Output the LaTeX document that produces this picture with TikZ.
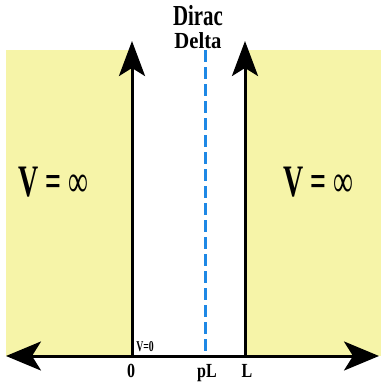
\documentclass[tikz,border=0pt]{standalone}
\usepackage{fontspec}
\setmainfont{Liberation Serif}
\usetikzlibrary{arrows.meta}
\definecolor{wallfill}{RGB}{246,244,168}
\definecolor{deltablue}{RGB}{30,136,229}

\begin{document}
\begin{tikzpicture}[x=1pt,y=-1pt,
  bigtip/.tip={Stealth[length=35pt,width=29pt,inset=9pt]},
  uptip/.tip={Stealth[length=35pt,width=26pt,inset=8pt]},
  axis/.style={line width=3pt},
  lbl/.style={inner sep=0pt, anchor=base, font=\bfseries}]
  \useasboundingbox (0,0) rectangle (381,383);
  %% 1. Walls
  \fill[wallfill] (6,50) rectangle (132,356);
  \fill[wallfill] (245,50) rectangle (381,356);
  %% 2. Coordinates
  \coordinate (xmin) at (6,356);
  \coordinate (xmax) at (379,356);
  \coordinate (zero) at (132,356);
  \coordinate (ell) at (245,356);
  \coordinate (zerotop) at (132,41);
  \coordinate (elltop) at (245,41);
  \coordinate (pl) at (205,356);
  \coordinate (pltop) at (205,50);
  %% 3. Delta and axes
  \draw[deltablue, line width=3pt, dash pattern=on 12pt off 5pt] (pltop) -- (pl);
  \draw[axis, -uptip] (zero) -- (zerotop);
  \draw[axis, -uptip] (ell) -- (elltop);
  \draw[axis, bigtip-bigtip] (xmin) -- (xmax);
  %% 4. Labels
  \node[lbl, xscale=0.72, font=\bfseries\fontsize{29}{29}\selectfont] (dirac) at (198,25) {Dirac};
  \node[lbl, xscale=0.9, font=\bfseries\fontsize{23}{23}\selectfont] (delta) at (198,48) {Delta};
  \node[lbl, xscale=0.62, font=\fontsize{45}{45}\selectfont] (vleft) at (53,196) {\textbf{V =} ∞};
  \node[lbl, xscale=0.62, font=\fontsize{45}{45}\selectfont] (vright) at (318,196) {\textbf{V =} ∞};
  \node[lbl, xscale=0.65, font=\bfseries\fontsize{15}{15}\selectfont] (vzero) at (145,351) {V=0};
  \node[lbl, xscale=0.8, font=\bfseries\fontsize{20}{20}\selectfont] (xzero) at (131,377) {0};
  \node[lbl, xscale=0.8, font=\bfseries\fontsize{20}{20}\selectfont] (xpl) at (207,377) {pL};
  \node[lbl, xscale=0.8, font=\bfseries\fontsize{20}{20}\selectfont] (xell) at (247,377) {L};
\end{tikzpicture}
\end{document}
